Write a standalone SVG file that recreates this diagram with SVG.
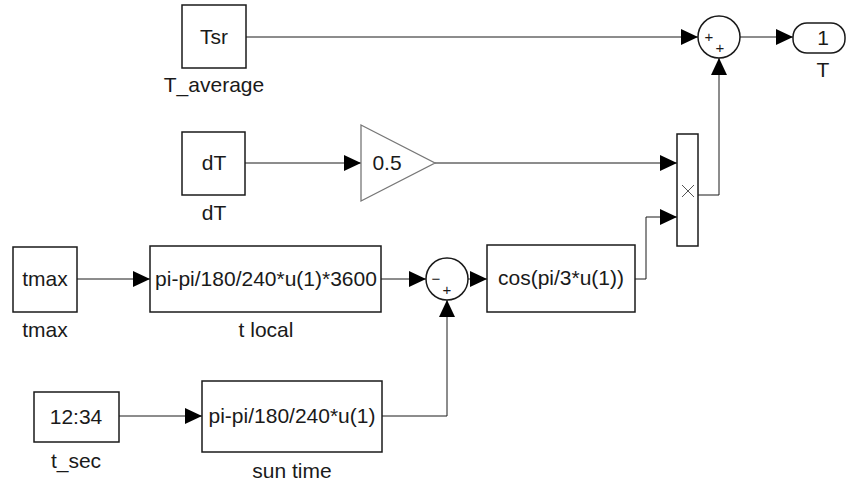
<svg xmlns="http://www.w3.org/2000/svg" width="847" height="483" viewBox="0 0 847 483">
<style>
.blk{fill:#fff;stroke:#1a1a1a;stroke-width:1.5}
.tri{fill:#fff;stroke:#777;stroke-width:1.3}
.t{font-family:"Liberation Sans",Arial,sans-serif;font-size:21px;fill:#1a1a1a;text-anchor:middle}
.s{font-family:"Liberation Sans",Arial,sans-serif;font-size:15px;fill:#1a1a1a;text-anchor:middle}
.c{fill:none;stroke:#1a1a1a;stroke-width:1;marker-end:url(#ah)}
</style>
<defs>
<marker id="ah" markerUnits="userSpaceOnUse" markerWidth="17" markerHeight="16" refX="17" refY="8" orient="auto">
<path d="M0,0 L17,8 L0,16 z" fill="#000"/>
</marker>
</defs>
<g id="connectors">
<path class="c" d="M246,37 H698"/>
<path class="c" d="M740,37 H793"/>
<path class="c" d="M245,163 H361"/>
<path class="c" d="M435,163 H677"/>
<path class="c" d="M698,195 H719 V58"/>
<path class="c" d="M77,279 H150"/>
<path class="c" d="M381,279 H426"/>
<path class="c" d="M468,279 H487"/>
<path class="c" d="M635,279 H646 V217 H677"/>
<path class="c" d="M119,416 H202"/>
<path class="c" d="M382,416 H447 V300"/>
</g>
<g id="Tsr">
<rect class="blk" x="182" y="5" width="64" height="63"/>
<text class="t" x="214" y="44">Tsr</text>
<text class="t" x="214" y="92">T_average</text>
</g>
<g id="dT">
<rect class="blk" x="182" y="132" width="63" height="63"/>
<text class="t" x="214" y="170">dT</text>
<text class="t" x="214" y="220">dT</text>
</g>
<g id="gain">
<path class="tri" d="M361,125 L435,163 L361,201 z"/>
<text class="t" x="387" y="170">0.5</text>
</g>
<g id="sum1">
<circle class="blk" cx="719" cy="37" r="21"/>
<text class="s" x="709" y="42">+</text>
<text class="s" x="720" y="53">+</text>
</g>
<g id="outport">
<rect class="blk" x="793" y="23" width="52" height="30" rx="14" ry="14"/>
<text class="t" x="823" y="45">1</text>
<text class="t" x="823" y="77">T</text>
</g>
<g id="product">
<rect class="blk" x="677" y="134" width="21" height="112"/>
<path d="M682,185 L694,197 M694,185 L682,197" stroke="#555" stroke-width="1" fill="none"/>
</g>
<g id="tmax">
<rect class="blk" x="13" y="247" width="64" height="65"/>
<text class="t" x="45" y="286">tmax</text>
<text class="t" x="45" y="337">tmax</text>
</g>
<g id="tlocal">
<rect class="blk" x="150" y="246" width="231" height="66"/>
<text class="t" x="266" y="286">pi-pi/180/240*u(1)*3600</text>
<text class="t" x="266" y="337">t local</text>
</g>
<g id="sum2">
<circle class="blk" cx="447" cy="279" r="21"/>
<text class="s" x="436" y="284">−</text>
<text class="s" x="447" y="295">+</text>
</g>
<g id="cos">
<rect class="blk" x="487" y="245" width="148" height="67"/>
<text class="t" x="561" y="285">cos(pi/3*u(1))</text>
</g>
<g id="tsec">
<rect class="blk" x="34" y="392" width="85" height="50"/>
<text class="t" x="76" y="424">12:34</text>
<text class="t" x="76" y="468">t_sec</text>
</g>
<g id="suntime">
<rect class="blk" x="202" y="381" width="180" height="71"/>
<text class="t" x="292" y="423">pi-pi/180/240*u(1)</text>
<text class="t" x="292" y="478">sun time</text>
</g>
</svg>
